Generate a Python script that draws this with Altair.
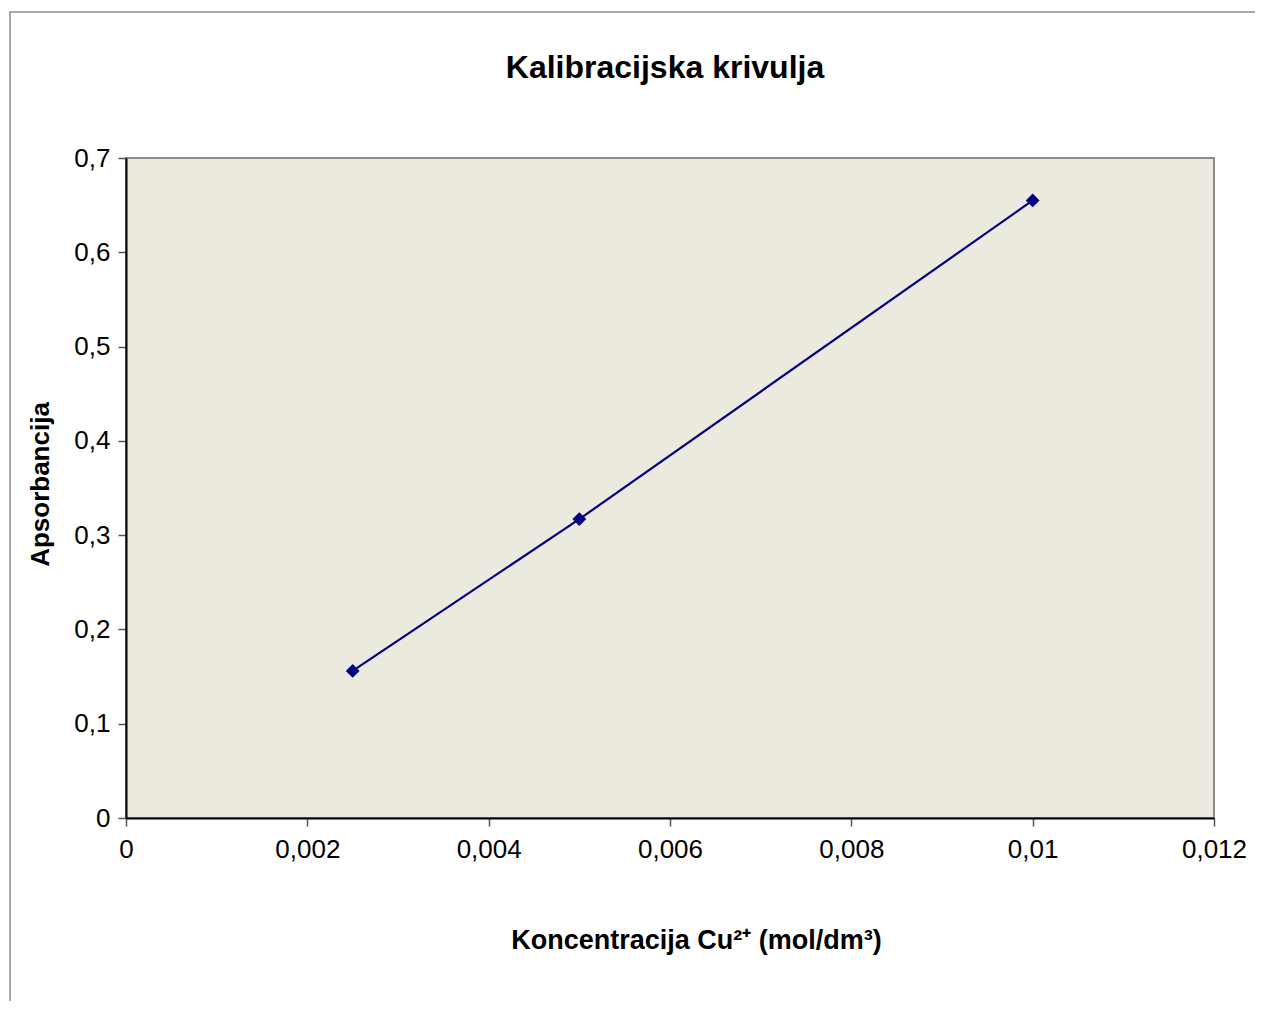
import altair as alt
import pandas as pd

konc = [0.0025, 0.005, 0.01]
aps = [0.156, 0.317, 0.655]
x_ticks = [0, 0.002, 0.004, 0.006, 0.008, 0.01, 0.012]
y_ticks = [0, 0.1, 0.2, 0.3, 0.4, 0.5, 0.6, 0.7]
chart_title = "Kalibracijska krivulja"

df = pd.DataFrame({"x": konc, "y": aps})

FONT = "Liberation Sans"
NAVY = "#000080"
lab = "replace(toString(datum.value), '.', ',')"

xenc = alt.X("x:Q", scale=alt.Scale(domain=[0, 0.012], nice=False),
             axis=alt.Axis(values=x_ticks, labelExpr=lab, grid=False,
                           labelFlush=False,
                           title="Koncentracija Cu²⁺ (mol/dm³)",
                           titleX=570, titleY=122, titleBaseline="middle",
                           titleAlign="center", titleFontSize=27,
                           labelPadding=10, tickSize=8))
yenc = alt.Y("y:Q", scale=alt.Scale(domain=[0, 0.7], nice=False),
             axis=alt.Axis(values=y_ticks, labelExpr=lab, grid=False,
                           labelFlush=False,
                           title="Apsorbancija",
                           titleX=-86, titleY=326, titleBaseline="middle",
                           titleAlign="center",
                           labelPadding=8, tickSize=8))

frame = alt.Chart(pd.DataFrame({"a": [0]})).mark_rect(
    fillOpacity=0, stroke="#8c8c8c", strokeWidth=1.5, clip=False
).encode(x=alt.value(-116), y=alt.value(-146), x2=alt.value(1400), y2=alt.value(1100))

title_txt = alt.Chart(pd.DataFrame({"t": [chart_title]})).mark_text(
    font=FONT, fontSize=32, fontWeight="bold", color="black",
    align="center", baseline="middle"
).encode(text="t:N", x=alt.value(539), y=alt.value(-90))

line = alt.Chart(df).mark_line(color=NAVY, strokeWidth=2.2).encode(x=xenc, y=yenc)
pts = alt.Chart(df).mark_point(shape="diamond", filled=True, color=NAVY,
                               size=190, opacity=1).encode(x="x:Q", y="y:Q")

chart = alt.layer(frame, line, pts, title_txt).properties(
    width=1088, height=660,
    autosize=alt.AutoSizeParams(type="none"),
    padding={"left": 118, "top": 150, "right": 41, "bottom": 183},
).configure_view(
    fill="#ECE9DF", stroke="#8c8c8c", strokeWidth=2
).configure_axis(
    labelFont=FONT, labelFontSize=26, labelColor="black",
    titleFont=FONT, titleFontSize=26, titleFontWeight="bold", titleColor="black",
    domainColor="black", domainWidth=2, tickColor="#555555", tickWidth=1.5,
)

chart.save("out.html", embed_options={"renderer": "svg", "actions": False})
